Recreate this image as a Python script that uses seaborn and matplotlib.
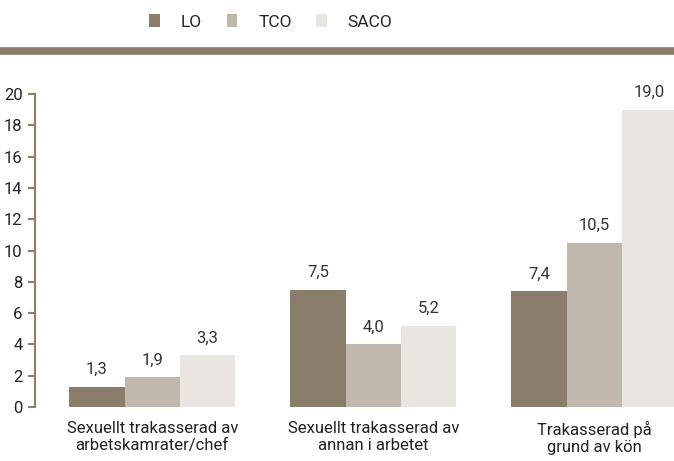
import pandas as pd
import numpy as np
import matplotlib.pyplot as plt
import seaborn as sns
from matplotlib.lines import Line2D
from matplotlib.patches import Patch

# Data
categories = [
    "Sexuellt trakasserad av\narbetskamrater/chef",
    "Sexuellt trakasserad av\nannan i arbetet",
    "Trakasserad på\ngrund av kön",
]
groups = ["LO", "TCO", "SACO"]
lo_values = [1.3, 7.5, 7.4]
tco_values = [1.9, 4.0, 10.5]
saco_values = [3.3, 5.2, 19.0]
y_ticks = [0, 2, 4, 6, 8, 10, 12, 14, 16, 18, 20]

colors = ["#8a7d6b", "#c0b8ad", "#e9e5e0"]
dark = "#8a7d6b"

df = pd.DataFrame({
    "Kategori": categories * 3,
    "Grupp": [g for g in groups for _ in categories],
    "Andel": lo_values + tco_values + saco_values,
})

sns.set_style("white")
plt.rcParams["font.family"] = ["Roboto", "DejaVu Sans"]

fig = plt.figure(figsize=(6.74, 4.61), dpi=100)
ax = fig.add_axes([0.052, 0.117, 0.948, 0.679])

sns.barplot(data=df, x="Kategori", y="Andel", hue="Grupp", hue_order=groups,
            palette=colors, width=0.75, gap=0, saturation=1, ax=ax,
            legend=False, errorbar=None, linewidth=0)

for cont in ax.containers:
    vals = cont.datavalues
    ax.bar_label(cont, labels=[f"{v:.1f}".replace(".", ",") for v in vals],
                 padding=7, fontsize=12, color="#333333")

ax.set_ylim(0, 20)
ax.set_xlim(-0.53, 2.36)
ax.set_yticks(y_ticks)
ax.set_xlabel("")
ax.set_ylabel("")
for s in ["top", "right", "bottom"]:
    ax.spines[s].set_visible(False)
ax.spines["left"].set_color(dark)
ax.spines["left"].set_linewidth(1.5)
ax.tick_params(axis="y", length=5, width=1.5, color=dark, direction="out",
               labelsize=12, labelcolor="#222222", left=True, pad=4)
ax.tick_params(axis="x", length=0, labelsize=12, labelcolor="#222222", pad=10)
for lab in ax.get_xticklabels():
    lab.set_linespacing(1.15)

# thick divider line under the legend
fig.add_artist(Line2D([0, 1], [0.889, 0.889], transform=fig.transFigure,
                      color=dark, linewidth=5.5))

handles = [Patch(facecolor=c, edgecolor="none") for c in colors]
fig.legend(handles, groups, loc="center", bbox_to_anchor=(0.402, 0.953),
           ncol=3, frameon=False, fontsize=12.5, handlelength=0.63,
           handleheight=0.8, handletextpad=1.2, columnspacing=1.4)

fig.savefig("out.png", dpi=100)
